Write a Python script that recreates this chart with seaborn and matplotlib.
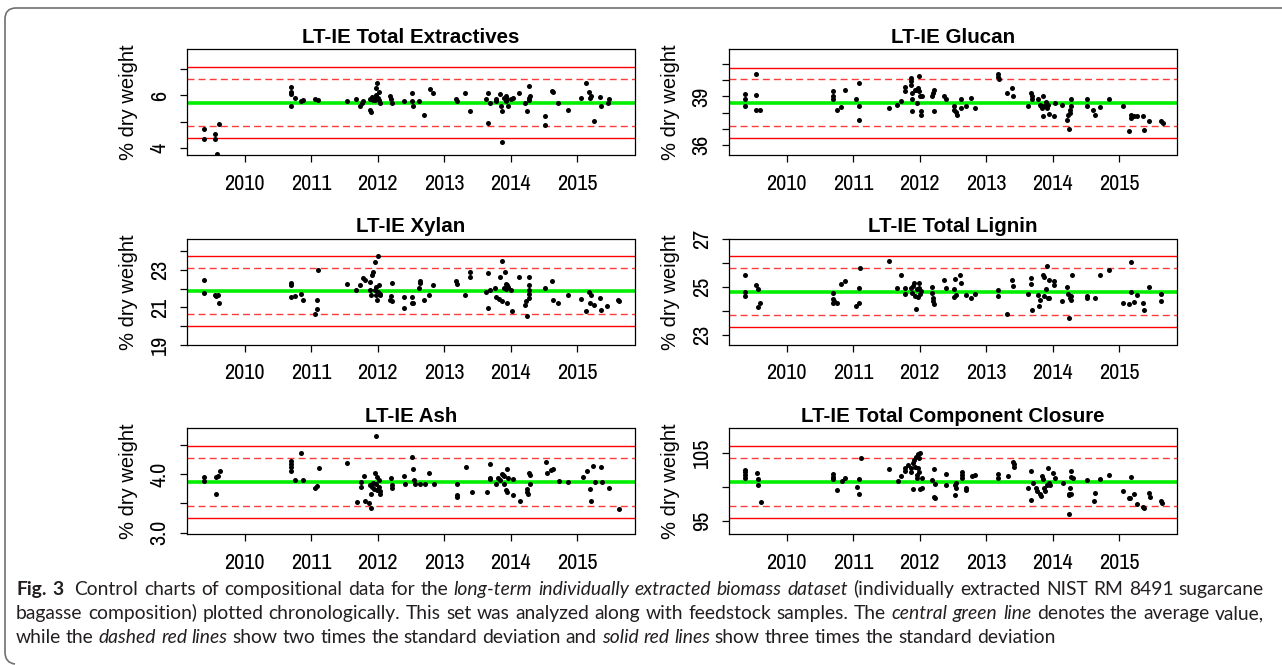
import numpy as np
import pandas as pd
import matplotlib
matplotlib.use("Agg")
import matplotlib.pyplot as plt
from matplotlib import font_manager
from matplotlib.path import Path
from matplotlib.patches import PathPatch
import seaborn as sns

# (decimal year, % dry weight)
ext_points = [
    (2009.39, 4.70), (2009.39, 4.34), (2009.55, 4.51), (2009.55, 4.34), (2009.58, 3.75), (2009.61, 4.92),
    (2010.70, 6.34), (2010.70, 6.15), (2010.70, 6.05), (2010.70, 5.61), (2010.76, 5.90), (2010.84, 5.77),
    (2010.87, 5.84), (2011.05, 5.86), (2011.10, 5.84), (2011.53, 5.77), (2011.67, 5.86), (2011.73, 5.61),
    (2011.76, 5.71), (2011.78, 5.77), (2011.88, 5.87), (2011.88, 5.46), (2011.89, 5.35), (2011.91, 5.96),
    (2011.93, 5.90), (2011.95, 5.96), (2011.97, 6.03), (2011.97, 6.28), (2011.99, 6.47), (2012.00, 5.90),
    (2012.02, 5.84), (2012.02, 6.15), (2012.04, 5.71), (2011.95, 5.84), (2011.92, 5.84), (2012.19, 5.99),
    (2012.20, 5.86), (2012.22, 5.71), (2012.39, 5.80), (2012.52, 6.09), (2012.52, 5.80), (2012.53, 5.58),
    (2012.62, 5.80), (2012.70, 5.27), (2012.78, 6.24), (2012.83, 6.09), (2013.18, 5.86), (2013.19, 5.80),
    (2013.31, 6.09), (2013.39, 5.42), (2013.62, 5.86), (2013.66, 6.09), (2013.66, 4.95), (2013.69, 5.73),
    (2013.77, 5.77), (2013.78, 5.86), (2013.84, 6.05), (2013.85, 5.58), (2013.86, 5.42), (2013.86, 4.23),
    (2013.90, 5.90), (2013.92, 5.99), (2013.93, 5.77), (2013.94, 5.86), (2013.96, 5.61), (2014.01, 5.86),
    (2014.04, 5.90), (2014.13, 6.09), (2014.22, 5.71), (2014.25, 5.42), (2014.27, 5.90), (2014.27, 6.37),
    (2014.28, 5.84), (2014.29, 5.99), (2014.52, 5.20), (2014.52, 4.86), (2014.62, 6.19), (2014.64, 6.14),
    (2014.71, 5.71), (2014.86, 5.46), (2015.05, 5.90), (2015.13, 6.49), (2015.18, 6.15), (2015.19, 5.90),
    (2015.21, 5.99), (2015.25, 5.01), (2015.34, 5.96), (2015.35, 5.61), (2015.46, 5.71), (2015.47, 5.86),
]

glu_points = [
    (2009.37, 39.14), (2009.37, 38.84), (2009.37, 38.43), (2009.54, 40.39), (2009.54, 39.06), (2009.54, 38.18),
    (2009.60, 38.18), (2010.69, 39.35), (2010.69, 39.00), (2010.69, 38.84), (2010.75, 38.18), (2010.82, 38.35),
    (2010.87, 39.41), (2011.04, 38.86), (2011.08, 39.84), (2011.08, 38.39), (2011.08, 37.57), (2011.53, 38.27),
    (2011.66, 38.49), (2011.71, 38.69), (2011.77, 39.57), (2011.77, 39.31), (2011.86, 40.12), (2011.86, 39.92),
    (2011.86, 39.71), (2011.88, 39.20), (2011.88, 38.84), (2011.88, 38.12), (2011.92, 39.41), (2011.94, 39.37),
    (2011.96, 38.59), (2011.97, 39.51), (2011.99, 40.27), (2011.99, 39.31), (2012.00, 39.00), (2012.02, 38.08),
    (2012.02, 37.88), (2012.03, 39.04), (2012.19, 39.00), (2012.20, 39.20), (2012.21, 39.41), (2012.21, 38.12),
    (2012.37, 39.04), (2012.39, 38.84), (2012.51, 38.43), (2012.52, 38.18), (2012.54, 38.02), (2012.56, 37.88),
    (2012.62, 38.84), (2012.62, 38.29), (2012.69, 38.43), (2012.77, 38.90), (2012.83, 38.27), (2013.17, 40.37),
    (2013.17, 40.22), (2013.19, 40.08), (2013.31, 39.20), (2013.38, 39.51), (2013.40, 39.00), (2013.63, 38.43),
    (2013.67, 39.24), (2013.68, 39.00), (2013.68, 38.84), (2013.77, 38.84), (2013.80, 38.49), (2013.82, 38.39),
    (2013.83, 38.29), (2013.85, 39.00), (2013.85, 37.78), (2013.87, 38.39), (2013.89, 38.63), (2013.91, 38.29),
    (2013.92, 38.49), (2013.95, 37.92), (2014.02, 37.82), (2014.03, 38.59), (2014.14, 38.49), (2014.22, 37.57),
    (2014.23, 37.88), (2014.24, 37.00), (2014.26, 38.18), (2014.26, 37.98), (2014.28, 38.39), (2014.28, 38.84),
    (2014.51, 38.84), (2014.52, 38.39), (2014.60, 38.18), (2014.63, 37.88), (2014.71, 38.35), (2014.85, 38.84),
    (2015.06, 38.43), (2015.14, 36.86), (2015.17, 37.88), (2015.18, 37.67), (2015.22, 37.78), (2015.26, 37.82),
    (2015.36, 37.78), (2015.37, 36.96), (2015.45, 37.47), (2015.63, 37.47), (2015.65, 37.37),
]

xyl_points = [
    (2009.39, 22.47), (2009.39, 21.77), (2009.55, 21.68), (2009.56, 21.61), (2009.59, 21.68), (2009.61, 21.21),
    (2010.70, 22.30), (2010.70, 22.18), (2010.70, 21.56), (2010.76, 21.61), (2010.84, 21.74), (2010.87, 21.42),
    (2011.05, 20.63), (2011.09, 20.91), (2011.09, 21.39), (2011.10, 23.00), (2011.53, 22.26), (2011.67, 21.91),
    (2011.73, 22.18), (2011.78, 22.56), (2011.80, 22.49), (2011.88, 22.35), (2011.88, 21.91), (2011.89, 21.65),
    (2011.91, 22.74), (2011.92, 22.88), (2011.95, 23.44), (2011.96, 21.91), (2011.97, 22.09), (2011.97, 21.65),
    (2011.98, 21.42), (2012.00, 21.82), (2012.00, 23.75), (2012.02, 22.18), (2012.03, 21.65), (2012.04, 21.74),
    (2012.19, 21.39), (2012.20, 21.61), (2012.21, 22.32), (2012.22, 21.33), (2012.39, 21.56), (2012.39, 20.95),
    (2012.51, 21.56), (2012.52, 21.21), (2012.53, 21.26), (2012.62, 22.04), (2012.63, 22.39), (2012.63, 22.30),
    (2012.70, 21.42), (2012.77, 21.65), (2012.83, 22.18), (2013.18, 22.39), (2013.19, 22.26), (2013.31, 21.65),
    (2013.39, 22.88), (2013.39, 22.61), (2013.62, 21.82), (2013.66, 22.84), (2013.66, 20.95), (2013.69, 21.91),
    (2013.76, 22.04), (2013.78, 21.56), (2013.82, 21.47), (2013.84, 22.61), (2013.86, 23.49), (2013.87, 21.33),
    (2013.89, 22.04), (2013.91, 22.88), (2013.92, 22.26), (2013.93, 22.00), (2013.94, 22.18), (2013.96, 22.09),
    (2013.95, 21.21), (2014.01, 21.91), (2014.02, 20.82), (2014.13, 22.65), (2014.22, 21.12), (2014.23, 21.33),
    (2014.25, 20.56), (2014.27, 22.65), (2014.27, 22.18), (2014.27, 21.91), (2014.28, 21.74), (2014.28, 21.51),
    (2014.52, 22.04), (2014.62, 22.39), (2014.64, 21.42), (2014.71, 21.21), (2014.86, 21.65), (2015.05, 21.47),
    (2015.13, 20.82), (2015.18, 21.82), (2015.19, 21.21), (2015.21, 21.68), (2015.25, 21.12), (2015.34, 21.51),
    (2015.35, 20.86), (2015.45, 21.09), (2015.61, 21.42), (2015.62, 21.33),
]

lig_points = [
    (2009.37, 25.47), (2009.37, 24.78), (2009.37, 24.61), (2009.54, 25.06), (2009.56, 24.89), (2009.56, 24.17),
    (2009.60, 24.34), (2010.69, 24.48), (2010.69, 24.34), (2010.71, 24.41), (2010.76, 24.34), (2010.69, 24.75),
    (2010.82, 25.10), (2010.87, 25.26), (2011.04, 24.20), (2011.08, 24.34), (2011.08, 24.96), (2011.10, 25.79),
    (2011.53, 26.06), (2011.66, 24.93), (2011.72, 25.47), (2011.77, 24.96), (2011.78, 24.72), (2011.86, 24.96),
    (2011.88, 24.75), (2011.89, 25.03), (2011.91, 25.17), (2011.92, 24.61), (2011.94, 24.06), (2011.96, 24.89),
    (2011.97, 24.59), (2011.98, 25.17), (2011.99, 24.96), (2012.00, 24.72), (2012.02, 24.82), (2012.19, 25.00),
    (2012.20, 24.54), (2012.21, 24.27), (2012.20, 24.41), (2012.19, 24.75), (2012.37, 25.28), (2012.39, 24.96),
    (2012.51, 24.89), (2012.52, 24.59), (2012.53, 25.33), (2012.54, 24.64), (2012.61, 25.51), (2012.62, 25.14),
    (2012.69, 24.64), (2012.77, 24.54), (2012.83, 24.72), (2013.17, 24.86), (2013.17, 24.61), (2013.31, 23.86),
    (2013.38, 25.28), (2013.40, 25.03), (2013.63, 24.72), (2013.67, 25.36), (2013.67, 25.10), (2013.68, 24.03),
    (2013.77, 24.64), (2013.79, 24.20), (2013.80, 24.45), (2013.85, 25.47), (2013.86, 25.41), (2013.87, 24.61),
    (2013.89, 24.89), (2013.91, 25.88), (2013.92, 24.54), (2013.94, 25.28), (2013.95, 24.54), (2014.02, 25.23),
    (2014.02, 25.07), (2014.14, 24.41), (2014.22, 25.00), (2014.23, 24.68), (2014.24, 23.72), (2014.26, 24.54),
    (2014.27, 24.45), (2014.28, 24.61), (2014.29, 25.47), (2014.51, 24.61), (2014.52, 24.54), (2014.63, 24.54),
    (2014.71, 25.47), (2014.85, 25.69), (2015.06, 24.31), (2015.14, 24.27), (2015.17, 26.02), (2015.18, 24.78),
    (2015.22, 24.37), (2015.26, 24.64), (2015.36, 24.31), (2015.37, 24.03), (2015.45, 25.00), (2015.63, 24.72),
    (2015.63, 24.41),
]

ash_points = [
    (2009.39, 3.95), (2009.39, 3.89), (2009.56, 3.66), (2009.56, 3.96), (2009.59, 3.97), (2009.62, 4.06),
    (2010.70, 4.22), (2010.70, 4.17), (2010.70, 4.13), (2010.70, 4.05), (2010.76, 3.91), (2010.84, 4.37),
    (2010.88, 3.90), (2011.06, 3.77), (2011.09, 3.80), (2011.11, 4.10), (2011.54, 4.19), (2011.68, 3.52),
    (2011.74, 3.87), (2011.74, 3.79), (2011.79, 3.97), (2011.80, 3.54), (2011.87, 3.50), (2011.88, 3.82),
    (2011.89, 3.67), (2011.90, 3.43), (2011.91, 3.79), (2011.92, 3.85), (2011.94, 3.75), (2011.96, 4.02),
    (2011.97, 4.65), (2011.97, 3.83), (2011.98, 3.73), (2011.99, 3.96), (2012.01, 3.90), (2012.02, 3.79),
    (2012.03, 3.66), (2012.03, 3.71), (2012.20, 3.93), (2012.21, 3.82), (2012.22, 3.77), (2012.40, 3.97),
    (2012.41, 3.83), (2012.52, 4.30), (2012.53, 4.09), (2012.54, 3.90), (2012.56, 3.83), (2012.63, 3.83),
    (2012.71, 3.83), (2012.77, 4.03), (2012.84, 3.83), (2013.19, 3.83), (2013.19, 3.65), (2013.19, 3.61),
    (2013.33, 4.12), (2013.41, 3.70), (2013.64, 3.70), (2013.68, 4.17), (2013.68, 3.94), (2013.68, 3.92),
    (2013.78, 3.83), (2013.80, 3.93), (2013.83, 3.91), (2013.86, 4.00), (2013.88, 3.99), (2013.89, 3.97),
    (2013.90, 3.83), (2013.93, 3.73), (2013.94, 3.69), (2013.95, 4.09), (2013.96, 3.94), (2014.03, 3.92),
    (2014.03, 3.65), (2014.14, 3.54), (2014.24, 3.75), (2014.25, 3.69), (2014.26, 3.66), (2014.27, 4.02),
    (2014.29, 3.99), (2014.29, 3.83), (2014.53, 4.21), (2014.54, 4.03), (2014.61, 4.07), (2014.64, 4.09),
    (2014.72, 3.89), (2014.86, 3.86), (2015.08, 3.95), (2015.15, 4.06), (2015.19, 3.75), (2015.20, 3.54),
    (2015.23, 4.14), (2015.27, 3.86), (2015.36, 4.12), (2015.37, 3.87), (2015.47, 3.77), (2015.62, 3.40),
]

tcc_points = [
    (2009.37, 102.45), (2009.37, 102.11), (2009.37, 101.72), (2009.37, 101.23), (2009.55, 101.96), (2009.56, 101.08),
    (2009.56, 100.25), (2009.61, 97.79), (2010.69, 101.81), (2010.69, 101.47), (2010.70, 101.13), (2010.75, 99.51),
    (2010.83, 100.83), (2010.87, 101.23), (2011.05, 100.00), (2011.09, 101.08), (2011.09, 98.87), (2011.11, 104.17),
    (2011.54, 102.55), (2011.67, 100.83), (2011.72, 101.62), (2011.77, 102.79), (2011.78, 102.30), (2011.82, 103.19),
    (2011.86, 102.11), (2011.87, 102.70), (2011.89, 99.61), (2011.90, 103.43), (2011.91, 103.92), (2011.92, 102.94),
    (2011.94, 104.41), (2011.95, 101.72), (2011.96, 101.23), (2011.97, 104.75), (2012.00, 105.00), (2011.99, 104.17),
    (2011.97, 102.70), (2011.99, 102.11), (2012.00, 99.61), (2012.03, 99.75), (2012.04, 101.32), (2012.22, 102.55),
    (2012.22, 98.53), (2012.23, 98.38), (2012.19, 100.98), (2012.23, 100.34), (2012.39, 101.81), (2012.39, 100.25),
    (2012.53, 100.25), (2012.54, 99.85), (2012.53, 98.77), (2012.55, 100.49), (2012.63, 102.21), (2012.63, 101.72),
    (2012.63, 101.23), (2012.70, 99.51), (2012.70, 99.75), (2012.78, 101.57), (2012.83, 101.72), (2013.18, 101.81),
    (2013.18, 101.23), (2013.32, 101.57), (2013.40, 103.68), (2013.41, 103.28), (2013.41, 102.94), (2013.63, 99.85),
    (2013.67, 102.35), (2013.67, 98.04), (2013.70, 100.49), (2013.75, 99.75), (2013.76, 99.36), (2013.80, 98.87),
    (2013.82, 98.63), (2013.83, 101.57), (2013.85, 101.08), (2013.87, 99.75), (2013.88, 99.36), (2013.91, 100.25),
    (2013.92, 102.70), (2013.95, 100.49), (2013.96, 100.25), (2014.01, 102.06), (2014.03, 101.32), (2014.15, 100.59),
    (2014.24, 98.92), (2014.25, 98.77), (2014.27, 98.92), (2014.25, 95.98), (2014.26, 99.85), (2014.28, 102.30),
    (2014.28, 101.47), (2014.30, 101.32), (2014.52, 100.98), (2014.62, 97.90), (2014.63, 99.10), (2014.71, 101.10),
    (2014.85, 101.70), (2015.06, 99.30), (2015.15, 98.40), (2015.16, 98.40), (2015.18, 101.40), (2015.22, 98.90),
    (2015.26, 97.50), (2015.36, 97.00), (2015.37, 96.80), (2015.45, 99.00), (2015.46, 98.50), (2015.63, 97.90),
    (2015.64, 97.60),
]

titles = ["LT-IE Total Extractives", "LT-IE Glucan", "LT-IE Xylan",
          "LT-IE Total Lignin", "LT-IE Ash", "LT-IE Total Component Closure"]
point_sets = [ext_points, glu_points, xyl_points, lig_points, ash_points, tcc_points]
centers = [5.73, 38.60, 21.88, 24.80, 3.87, 100.70]      # average (green line)
sds = [0.45, 0.725, 0.62, 0.49, 0.205, 1.75]             # standard deviation
ylims = [(3.72, 7.78), (35.39, 41.92), (19.0, 24.68), (22.59, 27.0), (2.97, 4.79), (92.99, 108.58)]
yticks = [[4, 5, 6, 7], [36, 37, 38, 39, 40, 41], [19, 20, 21, 22, 23, 24],
          [23, 24, 25, 26, 27], [3.0, 3.5, 4.0, 4.5], [95, 100, 105]]
ytick_labels = [["4", "", "6", ""], ["36", "", "", "39", "", ""], ["19", "", "21", "", "23", ""],
                ["23", "", "25", "", "27"], ["3.0", "", "4.0", ""], ["95", "", "105"]]
years = [2010, 2011, 2012, 2013, 2014, 2015]

caption_lines = [
    [("Fig. 3", "bold"), ("Control charts of compositional data for the", "normal"),
     ("long-term individually extracted biomass dataset", "italic"),
     ("(individually extracted NIST RM 8491 sugarcane", "normal")],
    [("bagasse composition) plotted chronologically. This set was analyzed along with feedstock samples. The", "normal"),
     ("central green line", "italic"), ("denotes the average value,", "normal")],
    [("while the", "normal"), ("dashed red lines", "italic"),
     ("show two times the standard deviation and", "normal"), ("solid red lines", "italic"),
     ("show three times the standard deviation", "normal")],
]

sns.set_style("ticks")
installed = sorted({f.name for f in font_manager.fontManager.ttflist})
narrow = [n for n in installed if "Narrow" in n]
if narrow:
    tick_font, tick_size = narrow[0], 16
else:
    tick_font, tick_size = "Liberation Sans", 13.5
plt.rcParams['font.family'] = ['Liberation Sans', 'DejaVu Sans']

W, H = 1282, 665
fig = plt.figure(figsize=(W / 100, H / 100), dpi=100)

col_left = [187, 729]
row_top = [49, 238.7, 428.3]
ax_w, ax_h = 447.5, 106

for i in range(6):
    r, c = divmod(i, 2)
    left, top = col_left[c], row_top[r]
    ax = fig.add_axes([left / W, 1 - (top + ax_h) / H, ax_w / W, ax_h / H])
    df = pd.DataFrame(point_sets[i], columns=["date", "value"])

    ax.axhline(centers[i], color="#00ee00", lw=2.6, zorder=2)
    for k, ls, col in [(2, (0, (5, 3)), "#ff3a3a"), (3, "-", "#ff0000")]:
        ax.axhline(centers[i] + k * sds[i], color=col, lw=1.0, ls=ls, zorder=1)
        ax.axhline(centers[i] - k * sds[i], color=col, lw=1.0, ls=ls, zorder=1)
    sns.scatterplot(data=df, x="date", y="value", ax=ax, color="black",
                    s=13, linewidth=0, zorder=3)

    ax.set_xlim(2009.13, 2015.86)
    ax.set_ylim(*ylims[i])
    ax.set_xticks(years)
    ax.set_xticklabels([str(y) for y in years], fontfamily=tick_font, fontsize=tick_size)
    ax.set_yticks(yticks[i])
    ax.set_yticklabels(ytick_labels[i], rotation=90, va="center", fontfamily=tick_font, fontsize=tick_size)
    ax.tick_params(length=5, width=0.9, color="black", labelcolor="black")
    ax.tick_params(axis="x", pad=8.5)
    ax.tick_params(axis="y", pad=7.5)
    for sp in ax.spines.values():
        sp.set_color("black")
        sp.set_linewidth(0.9)
    ax.set_xlabel("")
    ax.set_ylabel("% dry weight", fontsize=14.5, va="center", color="black")
    ax.yaxis.set_label_coords(-58.5 / ax_w, 0.5)
    ax.set_title(titles[i], fontweight="bold", fontsize=14.8, pad=4.5, color="black")

# frame around figure + caption
verts = [(1282, 8), (16, 8), (5, 8), (5, 19), (5, 652), (5, 663), (15, 664)]
codes = [Path.MOVETO, Path.LINETO, Path.CURVE3, Path.CURVE3, Path.LINETO, Path.CURVE3, Path.CURVE3]
frame = Path([(x / W, 1 - y / H) for x, y in verts], codes)
fig.add_artist(PathPatch(frame, fill=False, edgecolor="#707070", lw=1.2, transform=fig.transFigure))

# caption, set word by word so that the italic runs sit inline and lines are justified
renderer = fig.canvas.get_renderer()
cap_font = "Lato"
cap_size = 13.9
cap_left, cap_right = 16, 1264
baselines = [595, 619, 643]
justify = [True, True, False]

def style_kw(style):
    if style == "bold":
        return {"fontweight": "bold"}
    if style == "italic":
        return {"fontstyle": "italic"}
    return {}

def text_width(s, style="normal"):
    t = fig.text(0, 0, s, fontsize=cap_size, family=cap_font, **style_kw(style))
    w = t.get_window_extent(renderer).width
    t.remove()
    return w

space = text_width("a a") - text_width("aa")
for line, base, just in zip(caption_lines, baselines, justify):
    toks = [(w, style) for seg, style in line for w in seg.split(" ")]
    widths = [text_width(w, s) for w, s in toks]
    gaps = [2.0 if (s == "bold" and toks[k + 1][1] != "bold") else 1.0
            for k, (w, s) in enumerate(toks[:-1])]
    unit = (cap_right - cap_left - sum(widths)) / sum(gaps) if just else space
    x = cap_left
    for k, (w, s) in enumerate(toks):
        fig.text(x / W, 1 - base / H, w, fontsize=cap_size, family=cap_font,
                 color="#231f20", va="baseline", ha="left", **style_kw(s))
        if k < len(gaps):
            x += widths[k] + unit * gaps[k]

fig.savefig("out.png", dpi=100)
